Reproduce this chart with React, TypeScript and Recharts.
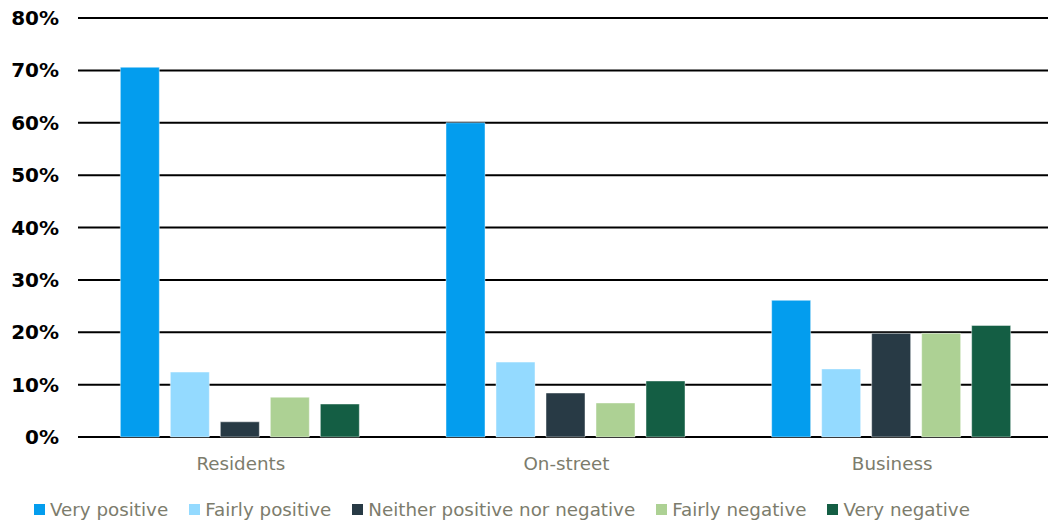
import {
  BarChart,
  Bar,
  XAxis,
  YAxis,
  CartesianGrid,
  Legend,
} from "recharts";

// Share of respondents by sentiment, per survey group (percent)
const groups = ["Residents", "On-street", "Business"];
const veryPositive = [70.6, 60.0, 26.1];
const fairlyPositive = [12.4, 14.3, 13.0];
const neither = [2.9, 8.4, 19.8];
const fairlyNegative = [7.6, 6.5, 19.8];
const veryNegative = [6.3, 10.7, 21.3];
const yTicks = [0, 10, 20, 30, 40, 50, 60, 70, 80];

const SERIES = [
  { key: "vp", name: "Very positive", values: veryPositive, color: "#039dee" },
  { key: "fp", name: "Fairly positive", values: fairlyPositive, color: "#94daff" },
  { key: "nn", name: "Neither positive nor negative", values: neither, color: "#283a45" },
  { key: "fn", name: "Fairly negative", values: fairlyNegative, color: "#add194" },
  { key: "vn", name: "Very negative", values: veryNegative, color: "#145e44" },
];

const chartData = groups.map((g, i) => {
  const row: Record<string, string | number> = { group: g };
  SERIES.forEach((s) => {
    row[s.key] = s.values[i];
  });
  return row;
});

const FONT = "Verdana, 'DejaVu Sans', sans-serif";
const LABEL_GREY = "#7c7c6c";

function renderLegend() {
  return (
    <div
      style={{
        display: "flex",
        alignItems: "center",
        paddingLeft: 34,
        paddingTop: 8,
        fontFamily: FONT,
        fontSize: 18.3,
        color: LABEL_GREY,
        height: 32,
      }}
    >
      {SERIES.map((s) => (
        <div
          key={s.key}
          style={{ display: "flex", alignItems: "center", marginRight: 21 }}
        >
          <span
            style={{
              display: "inline-block",
              width: 11,
              height: 11,
              background: s.color,
              marginRight: 5,
            }}
          />
          <span>{s.name}</span>
        </div>
      ))}
    </div>
  );
}

export default function App() {
  return (
    <div style={{ position: "absolute", left: 0, top: 0, background: "#fff" }}>
      <BarChart
        width={1048}
        height={525}
        data={chartData}
        margin={{ top: 18, right: -7, left: 0, bottom: 0 }}
        barCategoryGap="13%"
        barGap={11}
      >
        <CartesianGrid vertical={false} stroke="#000" strokeWidth={2} />
        <XAxis
          dataKey="group"
          height={48}
          axisLine={false}
          tickLine={false}
          tickMargin={14}
          tick={{ fill: LABEL_GREY, fontSize: 18.3, fontFamily: FONT }}
        />
        <YAxis
          width={78}
          domain={[0, 80]}
          ticks={yTicks}
          axisLine={false}
          tickLine={false}
          tickMargin={13}
          tickFormatter={(v: number) => `${v}%`}
          tick={{ fill: "#000", fontSize: 20, fontWeight: 700, fontFamily: FONT }}
        />
        <Legend
          verticalAlign="bottom"
          content={renderLegend}
          wrapperStyle={{ height: 40 }}
        />
        {SERIES.map((s) => (
          <Bar
            key={s.key}
            dataKey={s.key}
            name={s.name}
            fill={s.color}
            stroke="rgba(255,255,255,0.45)"
            strokeWidth={1}
            isAnimationActive={false}
          />
        ))}
      </BarChart>
    </div>
  );
}
